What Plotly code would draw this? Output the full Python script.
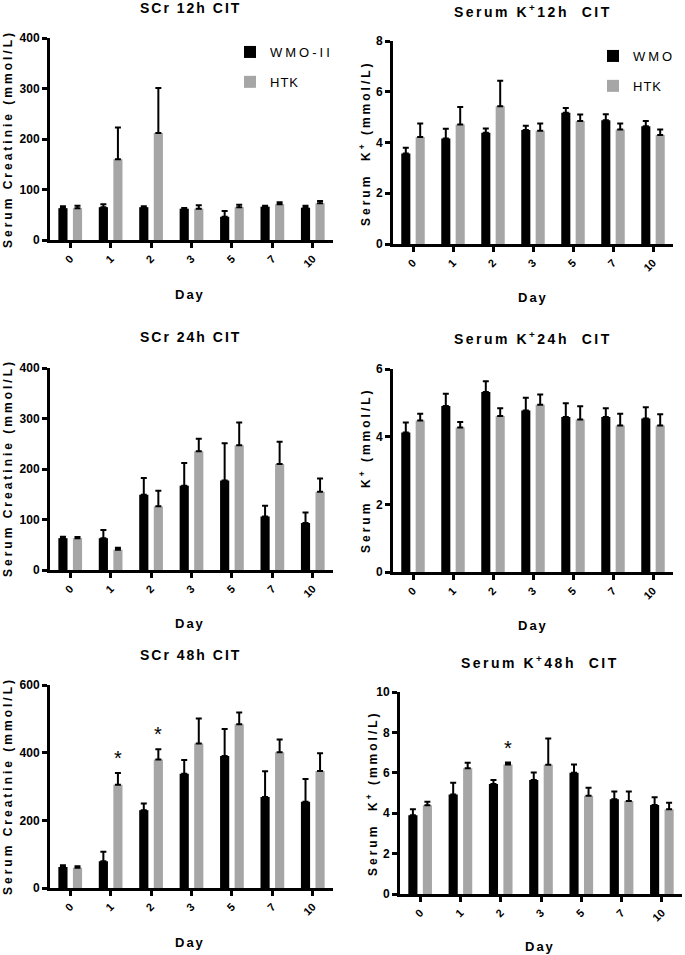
import plotly.graph_objects as go

days = ["0", "1", "2", "3", "5", "7", "10"]

# SCr 12h CIT
scr12_wmo = [63, 65, 65, 62, 46, 66, 64]
scr12_wmo_err = [4, 6, 2, 1.5, 11.5, 2, 4]
scr12_htk = [63, 160, 212, 62, 65, 71, 73]
scr12_htk_err = [5, 63, 89, 7, 5, 4, 4]

# Serum K 12h CIT
k12_wmo = [3.57, 4.16, 4.38, 4.49, 5.17, 4.88, 4.64]
k12_wmo_err = [0.22, 0.38, 0.17, 0.17, 0.19, 0.23, 0.21]
k12_htk = [4.22, 4.71, 5.43, 4.46, 4.85, 4.51, 4.30]
k12_htk_err = [0.53, 0.69, 1.0, 0.29, 0.25, 0.24, 0.21]

# SCr 24h CIT
scr24_wmo = [63, 63, 149, 167, 177, 106, 93]
scr24_wmo_err = [3, 16, 33, 45, 74, 21, 21]
scr24_htk = [63, 40, 126, 235, 247, 210, 155]
scr24_htk_err = [2.5, 4, 31, 25, 45, 44, 26]

# Serum K 24h CIT
k24_wmo = [4.12, 4.91, 5.32, 4.77, 4.58, 4.58, 4.54]
k24_wmo_err = [0.30, 0.36, 0.32, 0.38, 0.41, 0.26, 0.33]
k24_htk = [4.48, 4.27, 4.61, 4.94, 4.51, 4.33, 4.33]
k24_htk_err = [0.20, 0.16, 0.23, 0.31, 0.39, 0.35, 0.33]

# SCr 48h CIT
scr48_wmo = [62, 79, 230, 338, 390, 269, 255]
scr48_wmo_err = [5, 28, 20, 40, 80, 76, 67]
scr48_htk = [60, 305, 380, 427, 484, 401, 346]
scr48_htk_err = [4, 35, 30, 74, 35, 38, 52]

# Serum K 48h CIT
k48_wmo = [3.90, 4.92, 5.44, 5.64, 6.00, 4.69, 4.41]
k48_wmo_err = [0.29, 0.59, 0.20, 0.38, 0.41, 0.38, 0.38]
k48_htk = [4.39, 6.22, 6.41, 6.40, 4.87, 4.61, 4.19]
k48_htk_err = [0.18, 0.28, 0.10, 1.30, 0.39, 0.46, 0.33]

W, H = 685, 955
BLACK = "#000000"
GRAY = "#a6a6a6"
FONT = "Liberation Sans"


def sp(text, px):
    return f'<span style="letter-spacing:{px}px">{text}</span>'


def px_x(a, b):
    return [a / W, b / W]


def px_y(top, bottom):
    return [1 - bottom / H, 1 - top / H]


panels = [
    (scr12_wmo, scr12_wmo_err, scr12_htk, scr12_htk_err, 400, 100, (50, 333), (38, 240), "legend", "WMO-II"),
    (k12_wmo, k12_wmo_err, k12_htk, k12_htk_err, 8, 2, (393, 673), (41, 244), "legend2", "WMO"),
    (scr24_wmo, scr24_wmo_err, scr24_htk, scr24_htk_err, 400, 100, (50, 333), (368, 570), None, "WMO-II"),
    (k24_wmo, k24_wmo_err, k24_htk, k24_htk_err, 6, 2, (393, 673), (369, 572), None, "WMO"),
    (scr48_wmo, scr48_wmo_err, scr48_htk, scr48_htk_err, 600, 200, (50, 333), (685, 888), None, "WMO-II"),
    (k48_wmo, k48_wmo_err, k48_htk, k48_htk_err, 10, 2, (400, 682), (692, 894), None, "WMO"),
]

fig = go.Figure()
layout = dict(
    template="none",
    width=W, height=H,
    margin=dict(l=0, r=0, t=0, b=0, autoexpand=False),
    paper_bgcolor="white", plot_bgcolor="white",
    barmode="group", bargap=0.28, bargroupgap=0.37,
    font=dict(family=FONT, color="black"),
)

for i, (wv, we, hv, he, ymax, dt, xd, yd, leg, wname) in enumerate(panels, start=1):
    xa = "x" if i == 1 else f"x{i}"
    ya = "y" if i == 1 else f"y{i}"
    show = leg is not None
    common = dict(xaxis=xa, yaxis=ya, x=days)
    fig.add_trace(go.Bar(
        y=wv, name=sp(wname, 3), marker=dict(color=BLACK, line=dict(width=0)),
        error_y=dict(type="data", array=we, arrayminus=[0] * len(we), symmetric=False,
                     color="black", thickness=2, width=3),
        showlegend=show, legend=leg if leg else "legend", legendgroup=f"w{i}", **common))
    fig.add_trace(go.Bar(
        y=hv, name=sp("HTK", 1), marker=dict(color=GRAY, line=dict(width=0)),
        error_y=dict(type="data", array=he, arrayminus=[0] * len(he), symmetric=False,
                     color="black", thickness=2, width=3),
        showlegend=show, legend=leg if leg else "legend", legendgroup=f"h{i}", **common))
    kx = "xaxis" if i == 1 else f"xaxis{i}"
    ky = "yaxis" if i == 1 else f"yaxis{i}"
    layout[kx] = dict(
        domain=px_x(*xd), anchor=ya, type="category", range=[-0.5, 6.5],
        automargin=False,
        showline=True, linecolor="black", linewidth=3, ticks="outside",
        tickwidth=2.5, ticklen=5, tickcolor="black", tickangle=-45,
        tickfont=dict(family=FONT, size=11, weight="bold"), showgrid=False,
        zeroline=False, fixedrange=True)
    layout[ky] = dict(
        domain=px_y(*yd), anchor=xa, range=[0, ymax], dtick=dt, tick0=0,
        automargin=False,
        showline=True, linecolor="black", linewidth=3, ticks="outside",
        tickwidth=2.5, ticklen=5, tickcolor="black",
        tickfont=dict(family=FONT, size=12, weight="bold"), showgrid=False,
        zeroline=False, fixedrange=True)

layout["legend"] = dict(x=230 / W, y=1 - 37 / H, xanchor="left", yanchor="top",
                        bgcolor="rgba(0,0,0,0)", font=dict(family=FONT, size=13),
                        traceorder="grouped", tracegroupgap=10, itemwidth=30)
layout["legend2"] = dict(x=593 / W, y=1 - 41 / H, xanchor="left", yanchor="top",
                         bgcolor="rgba(0,0,0,0)", font=dict(family=FONT, size=13),
                         traceorder="grouped", tracegroupgap=10, itemwidth=30)

ann = []
titles = [
    ("SCr 12h CIT", 190, 8, 2), ("Serum K<sup>+</sup>12h  CIT", 533, 11, 2.5),
    ("SCr 24h CIT", 190, 337, 2), ("Serum K<sup>+</sup>24h  CIT", 533, 338, 2.5),
    ("SCr 48h CIT", 190, 655, 2), ("Serum K<sup>+</sup>48h  CIT", 540, 662, 2.5),
]
for t, x, y, s in titles:
    ann.append(dict(text=f"<b>{sp(t, s)}</b>", x=x / W, y=1 - y / H, xref="paper", yref="paper",
                    showarrow=False, xanchor="center", yanchor="middle",
                    font=dict(family=FONT, size=14)))
days_lbl = [(190, 295), (533, 298), (190, 623), (533, 625), (190, 942), (540, 946)]
for x, y in days_lbl:
    ann.append(dict(text=f"<b>{sp('Day', 2)}</b>", x=x / W, y=1 - y / H, xref="paper", yref="paper",
                    showarrow=False, xanchor="center", yanchor="middle",
                    font=dict(family=FONT, size=13)))
ytitles = [
    ("Serum Creatinie (mmol/L)", 8, 139), ("Serum  K<sup>+</sup> (mmol/L)", 365, 143),
    ("Serum Creatinie (mmol/L)", 8, 468), ("Serum  K<sup>+</sup> (mmol/L)", 365, 470),
    ("Serum Creatinie (mmol/L)", 8, 786), ("Serum  K<sup>+</sup> (mmol/L)", 372, 793),
]
for t, x, y in ytitles:
    ann.append(dict(text=f"<b>{sp(t, 3)}</b>", x=x / W, y=1 - y / H, xref="paper", yref="paper",
                    showarrow=False, xanchor="center", yanchor="middle", textangle=-90,
                    font=dict(family=FONT, size=12)))

stars = [(5, 1, scr48_htk, scr48_htk_err), (5, 2, scr48_htk, scr48_htk_err),
         (6, 2, k48_htk, k48_htk_err)]
for p, idx, vals, errs in stars:
    ann.append(dict(text="*", x=idx + 0.18, y=vals[idx] + errs[idx],
                    xref=f"x{p}", yref=f"y{p}", showarrow=False,
                    xanchor="center", yanchor="bottom", yshift=2,
                    font=dict(family=FONT, size=20)))

layout["annotations"] = ann
fig.update_layout(**layout)
fig.write_html("out.html", config={"displayModeBar": False},
               post_script="document.body.style.margin='0';document.body.style.overflow='hidden';")
